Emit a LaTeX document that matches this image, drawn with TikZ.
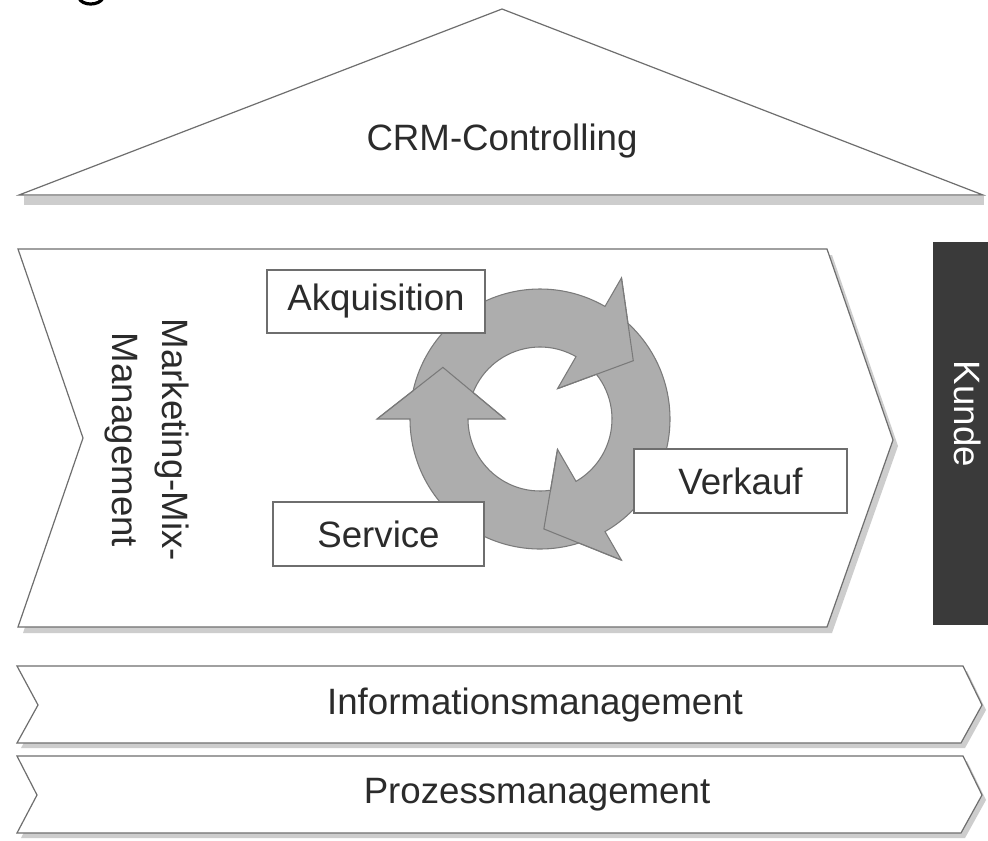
\documentclass[tikz,border=0pt]{standalone}
\usepackage{fontspec}
\setmainfont{Liberation Sans}
\definecolor{ringgray}{HTML}{ADADAD}
\definecolor{ringline}{HTML}{7A7A7A}
\definecolor{edgegray}{HTML}{6E6E6E}
\definecolor{shadowgray}{HTML}{CDCDCD}
\definecolor{kundegray}{HTML}{3A3A3A}
\definecolor{txtgray}{HTML}{2B2B2B}
\begin{document}
\begin{tikzpicture}[x=0.75pt,y=-0.75pt,
  txt/.style={font=\fontsize{27.5}{37}\selectfont, text=txtgray},
  outline/.style={draw=edgegray, line width=0.9pt, fill=white, line join=miter},
  shade/.style={fill=shadowgray, draw=none},
  lbl/.style={txt, draw=edgegray, line width=0.8pt, fill=white, inner sep=0pt},
  headedge/.style={draw=ringline, line width=0.8pt, line join=miter}
]
\useasboundingbox (0,0) rectangle (988,840);
\fill[white] (0,0) rectangle (988,840);

% fragment of a glyph at the top edge
\draw[line width=2.4pt, black] (79,-2) .. controls (82,6) and (99,6) .. (103,-2);

% roof
\fill[shade] (24,196) rectangle (984,205);
\path[outline] (502,9) -- (983,195) -- (19,195) -- cycle;
\node[txt] (crm) at (502,141) {CRM-Controlling};

% main chevron
\path[shade, shift={(5,6)}] (18,249) -- (827,249) -- (893,440) -- (827,627) -- (18,627) -- (83,438) -- cycle;
\path[outline] (18,249) -- (827,249) -- (893,440) -- (827,627) -- (18,627) -- (83,438) -- cycle;
\node[txt, rotate=-90, align=center] (mmm) at (147,440) {Marketing-Mix-\\Management};

% cycle of three arrows
\begin{scope}[shift={(540,419)}, yscale=-1]
\path[fill=ringgray, draw=ringline, line width=0.8pt, even odd rule, line join=miter]
  (180:130) -- (180:163) -- (167.42:130) arc[start angle=167.42, end angle=60, radius=130]
  -- (60:163) -- (47.42:130) arc[start angle=47.42, end angle=-60, radius=130]
  -- (-60:163) -- (-72.58:130) arc[start angle=-72.58, end angle=-180, radius=130] -- cycle
  (180:72) -- (180:35) -- (158.37:72) arc[start angle=158.37, end angle=60, radius=72]
  -- (60:35) -- (38.37:72) arc[start angle=38.37, end angle=-60, radius=72]
  -- (-60:35) -- (-81.63:72) arc[start angle=-81.63, end angle=-180, radius=72] -- cycle;
\foreach \a in {180,60,-60}{
  \path[headedge] (\a:163) -- (\a-28:110) -- (\a:35);
}
\end{scope}

\node[lbl, minimum width=163.5pt, minimum height=47.25pt] (akq) at (376,301.5) {Akquisition};
\node[lbl, minimum width=158.25pt, minimum height=48pt] (srv) at (378.5,534) {Service};
\node[lbl, minimum width=159.75pt, minimum height=48pt] (vkf) at (740.5,481) {Verkauf};

% Kunde bar
\fill[kundegray] (933,242) rectangle (988,625);
\node[txt, text=white, rotate=-90] (kunde) at (968,414) {Kunde};

% bottom bars
\path[shade, shift={(4,5)}] (17,666) -- (963,666) -- (982,705) -- (961,743) -- (17,743) -- (38,705) -- cycle;
\path[outline] (17,666) -- (963,666) -- (982,705) -- (961,743) -- (17,743) -- (38,705) -- cycle;
\node[txt] (info) at (535,705) {Informationsmanagement};

\path[shade, shift={(4,5)}] (17,756) -- (963,756) -- (982,795) -- (961,833) -- (17,833) -- (37,795) -- cycle;
\path[outline] (17,756) -- (963,756) -- (982,795) -- (961,833) -- (17,833) -- (37,795) -- cycle;
\node[txt] (proz) at (537,795) {Prozessmanagement};
\end{tikzpicture}
\end{document}
